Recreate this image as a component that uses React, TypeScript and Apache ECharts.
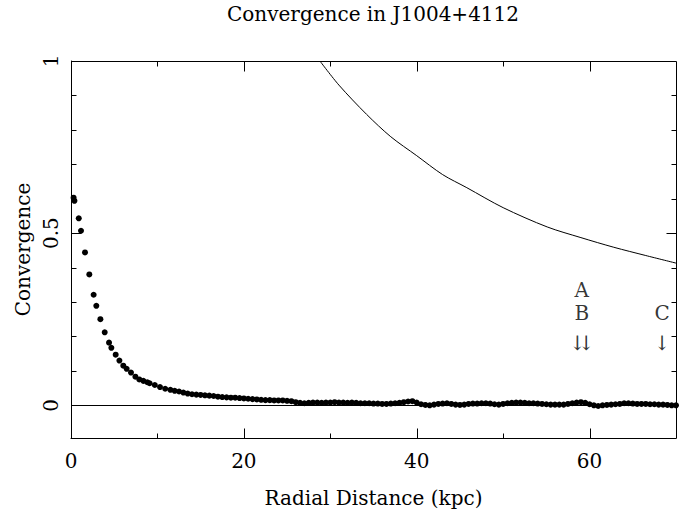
import React, { useEffect, useRef } from "react";
import * as echarts from "echarts";

// Convergence profile (dots)
const radius = [
  0.3, 0.4, 0.9, 1.16, 1.62, 2.12, 2.62, 2.93, 3.4, 3.9, 4.4, 4.67, 5.17, 5.6, 6.05, 6.44, 6.94, 7.45, 7.9, 8.37,
  8.83, 9.1, 9.7, 10.3, 10.9, 11.5, 12.0, 12.5, 13.0, 13.5, 14.0, 14.5, 15.0, 15.5, 16.0, 16.5, 17.0, 17.5, 18.0, 18.5,
  19.0, 19.5, 20.0, 20.5, 21.0, 21.5, 22.0, 22.5, 23.0, 23.5, 24.0, 24.5, 25.0, 25.5, 26.0, 26.5, 27.0, 27.5, 28.0, 28.5,
  29.0, 29.5, 30.0, 30.5, 31.0, 31.5, 32.0, 32.5, 33.0, 33.5, 34.0, 34.5, 35.0, 35.5, 36.0, 36.5, 37.0, 37.5, 38.0, 38.5,
  39.0, 39.5, 40.0, 40.5, 41.0, 41.5, 42.0, 42.5, 43.0, 43.5, 44.0, 44.5, 45.0, 45.5, 46.0, 46.5, 47.0, 47.5, 48.0, 48.5,
  49.0, 49.5, 50.0, 50.5, 51.0, 51.5, 52.0, 52.5, 53.0, 53.5, 54.0, 54.5, 55.0, 55.5, 56.0, 56.5, 57.0, 57.5, 58.0, 58.5,
  59.0, 59.5, 60.0, 60.5, 61.0, 61.5, 62.0, 62.5, 63.0, 63.5, 64.0, 64.5, 65.0, 65.5, 66.0, 66.5, 67.0, 67.5, 68.0, 68.5,
  69.0, 69.5, 70.0,
];
const convergence = [
  0.603, 0.594, 0.543, 0.507, 0.444, 0.38, 0.321, 0.289, 0.25, 0.212, 0.182, 0.167, 0.147, 0.13, 0.115, 0.106, 0.095, 0.083, 0.075, 0.071,
  0.067, 0.064, 0.059, 0.053, 0.048, 0.045, 0.042, 0.04, 0.037, 0.034, 0.032, 0.031, 0.03, 0.029, 0.028, 0.027, 0.025, 0.024, 0.023, 0.022,
  0.022, 0.021, 0.02, 0.019, 0.018, 0.017, 0.016, 0.015, 0.015, 0.014, 0.014, 0.014, 0.013, 0.012, 0.009, 0.007, 0.006, 0.007, 0.008, 0.008,
  0.007, 0.008, 0.008, 0.009, 0.008, 0.008, 0.007, 0.008, 0.007, 0.006, 0.006, 0.006, 0.005, 0.005, 0.004, 0.004, 0.005, 0.006, 0.007, 0.009,
  0.011, 0.012, 0.008, 0.003, 0.001, 0.0, 0.002, 0.004, 0.005, 0.006, 0.004, 0.002, 0.001, 0.002, 0.004, 0.005, 0.005, 0.006, 0.006, 0.005,
  0.003, 0.002, 0.004, 0.006, 0.007, 0.008, 0.008, 0.007, 0.006, 0.006, 0.005, 0.004, 0.003, 0.002, 0.002, 0.002, 0.002, 0.004, 0.006, 0.008,
  0.009, 0.007, 0.003, 0.0, -0.002, 0.0, 0.001, 0.002, 0.003, 0.004, 0.006, 0.006, 0.005, 0.004, 0.004, 0.004, 0.003, 0.003, 0.002, 0.002,
  0.001, 0.0, 0.0,
];

// Upper curve
const curveX = [28.8, 31.0, 34.2, 37.0, 40.0, 43.0, 45.8, 50.0, 55.1, 59.0, 62.8, 66.5, 70.0];
const curveY = [1.0, 0.93, 0.845, 0.78, 0.725, 0.67, 0.632, 0.574, 0.518, 0.487, 0.459, 0.435, 0.413];

// Annotations
const annoText = ["A", "B", "\u21CA", "C", "\u2193"];
const annoX = [59.1, 59.1, 59.1, 68.4, 68.4];
const annoY = [0.336, 0.268, 0.181, 0.268, 0.181];

// Axes and ticks
const xRange = [0, 70];
const yRange = [-0.095, 1];
const xLabels = [0, 20, 40, 60];
const xMajorTicks = [20, 40, 60];
const xMinorTicks = [10, 30, 50];
const yLabels = [0, 0.5, 1];
const yMajorTicks = [0.5];
const yMinorTicks = [0.1, 0.2, 0.3, 0.4, 0.6, 0.7, 0.8, 0.9];

const TITLE = "Convergence in J1004+4112";
const X_NAME = "Radial Distance (kpc)";
const Y_NAME = "Convergence";

const FONT = "DejaVu Serif";
const BLACK = "#000";
const MAJOR_LEN = 10;
const MINOR_LEN = 5;

export default function App() {
  const ref = useRef<HTMLDivElement>(null);
  useEffect(() => {
    if (!ref.current) return;
    const chart = echarts.init(ref.current, null, { renderer: "svg" });
    const G = { left: 71, right: 16, top: 61, bottom: 74 };

    const titleEl = {
      id: "title",
      type: "text",
      x: 373,
      y: 14,
      style: {
        text: TITLE,
        fontSize: 20,
        fontFamily: FONT,
        fill: BLACK,
        textAlign: "center",
        textVerticalAlign: "middle",
      },
    };

    chart.setOption({
      animation: false,
      graphic: [titleEl],
      grid: [G],
      xAxis: [
        {
          type: "value",
          position: "bottom",
          min: xRange[0],
          max: xRange[1],
          axisLine: { show: true, onZero: false, lineStyle: { color: BLACK, width: 1 } },
          axisTick: { show: false },
          axisLabel: { show: true, customValues: xLabels, fontSize: 20, fontFamily: FONT, color: BLACK, margin: 13 },
          splitLine: { show: false },
          name: X_NAME,
          nameLocation: "middle",
          nameGap: 50,
          nameTextStyle: { fontSize: 20, fontFamily: FONT, color: BLACK },
        },
      ],
      yAxis: [
        {
          type: "value",
          position: "left",
          min: yRange[0],
          max: yRange[1],
          axisLine: { show: true, onZero: false, lineStyle: { color: BLACK, width: 1 } },
          axisTick: { show: false },
          axisLabel: { show: true, customValues: yLabels, rotate: 90, fontSize: 20, fontFamily: FONT, color: BLACK, margin: 10 },
          splitLine: { show: false },
          name: Y_NAME,
          nameLocation: "middle",
          nameRotate: 90,
          nameGap: 37,
          nameTextStyle: { fontSize: 20, fontFamily: FONT, color: BLACK },
        },
      ],
      series: [
        {
          type: "line",
          data: curveX.map((x, i) => [x, curveY[i]]),
          smooth: 0.3,
          showSymbol: false,
          clip: true,
          lineStyle: { color: BLACK, width: 1 },
          itemStyle: { color: BLACK },
          markLine: {
            silent: true,
            symbol: "none",
            label: { show: false },
            lineStyle: { color: BLACK, width: 1, type: "solid" },
            data: [{ yAxis: 0 }],
          },
          z: 2,
        },
        {
          type: "scatter",
          data: radius.map((x, i) => [x, convergence[i]]),
          symbol: "circle",
          symbolSize: 6,
          itemStyle: { color: BLACK, opacity: 1 },
          z: 3,
        },
        {
          type: "scatter",
          data: annoX.map((x, i) => ({ value: [x, annoY[i]], name: annoText[i] })),
          symbolSize: 0,
          itemStyle: { color: "transparent" },
          label: {
            show: true,
            position: "inside",
            formatter: (p: any) => p.name,
            fontSize: 20,
            fontFamily: FONT,
            color: BLACK,
          },
          z: 4,
        },
      ],
    });

    // Frame (top/right) and inward ticks, placed through the chart's own scales
    const toPx = (x: number, y: number) =>
      chart.convertToPixel({ xAxisIndex: 0, yAxisIndex: 0 }, [x, y]) as number[];
    const crisp = (v: number) => Math.round(v) + 0.5;
    const els: any[] = [];
    const seg = (x1: number, y1: number, x2: number, y2: number) =>
      els.push({
        type: "line",
        z: 100,
        silent: true,
        shape: { x1, y1, x2, y2 },
        style: { stroke: BLACK, lineWidth: 1 },
      });
    const bl = toPx(xRange[0], yRange[0]);
    const tr = toPx(xRange[1], yRange[1]);
    const top = crisp(tr[1]);
    const bottom = crisp(bl[1]);
    const left = crisp(bl[0]);
    const right = crisp(tr[0]);
    seg(left, top, right, top);
    seg(right, top, right, bottom);
    const xTick = (v: number, len: number) => {
      const p = crisp(toPx(v, 0)[0]);
      seg(p, bottom, p, bottom - len);
      seg(p, top, p, top + len);
    };
    const yTick = (v: number, len: number) => {
      const p = crisp(toPx(0, v)[1]);
      seg(left, p, left + len, p);
      seg(right, p, right - len, p);
    };
    xMajorTicks.forEach((v) => xTick(v, MAJOR_LEN));
    xMinorTicks.forEach((v) => xTick(v, MINOR_LEN));
    yMajorTicks.forEach((v) => yTick(v, MAJOR_LEN));
    yMinorTicks.forEach((v) => yTick(v, MINOR_LEN));

    chart.setOption({
      graphic: [
        titleEl,
        {
          id: "frame",
          type: "group",
          z: 100,
          children: els,
        },
      ],
    });

    return () => chart.dispose();
  }, []);
  return <div ref={ref} style={{ position: "fixed", left: 0, top: 0, width: 692, height: 513, background: "#fff" }} />;
}
